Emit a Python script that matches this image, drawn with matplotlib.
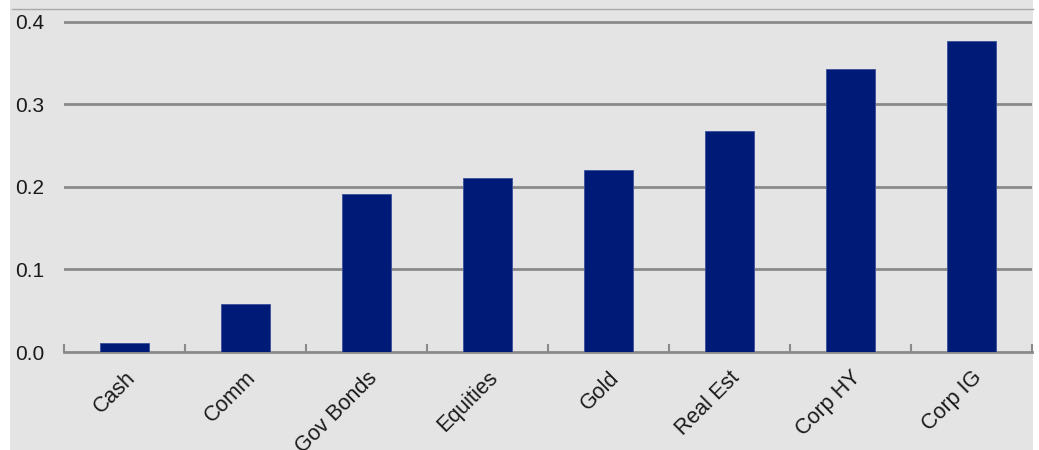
import numpy as np
import matplotlib
matplotlib.use("Agg")
import matplotlib.pyplot as plt
from matplotlib.patches import Rectangle

plt.rcParams["font.family"] = ["Liberation Sans", "DejaVu Sans"]

categories = ["Cash", "Comm", "Gov Bonds", "Equities", "Gold", "Real Est", "Corp HY", "Corp IG"]
values = [0.011, 0.058, 0.192, 0.211, 0.220, 0.268, 0.343, 0.377]
y_ticks = [0.0, 0.1, 0.2, 0.3, 0.4]

panel_color = "#e4e4e4"
bar_color = "#001a78"
grid_color = "#8a8a8a"
text_color = "#1a1a1a"

fig = plt.figure(figsize=(10.39, 4.5), dpi=100, facecolor="white")
# grey panel behind the chart, with a thin rule across the top
fig.patches.append(Rectangle((10 / 1039, 0), 1023 / 1039, 1, transform=fig.transFigure,
                             facecolor=panel_color, edgecolor="none", zorder=-10))
fig.add_artist(plt.Line2D([12 / 1039, 1033 / 1039], [1 - 9 / 450] * 2, transform=fig.transFigure,
                          color="#a8a8a8", linewidth=1, zorder=-5))

ax = fig.add_axes([64 / 1039, 1 - 352 / 450, 968 / 1039, 331 / 450])
ax.set_facecolor(panel_color)

x = np.arange(len(categories))
ax.bar(x, values, width=0.41, color=bar_color, edgecolor="#3a4f9a", linewidth=0.6, zorder=3)

ax.set_xlim(-0.5, len(categories) - 0.5)
ax.set_ylim(0, 0.4012)
ax.set_yticks(y_ticks)
ax.set_yticklabels([f"{v:.1f}" for v in y_ticks], fontsize=15, color=text_color, ha="left")
ax.tick_params(axis="y", length=0, pad=35)
for v in y_ticks[1:]:
    ax.axhline(v, color=grid_color, linewidth=2, zorder=1)

# category boundaries get small upward ticks
ax.set_xticks(np.arange(len(categories) + 1) - 0.5, minor=True)
ax.tick_params(axis="x", which="minor", direction="in", length=6, width=1.5, color=grid_color)
ax.set_xticks(x)
ax.set_xticklabels(categories, rotation=45, ha="right", rotation_mode="anchor",
                   fontsize=15.5, color=text_color)
ax.tick_params(axis="x", which="major", length=0, pad=11)

for side in ["top", "right", "left"]:
    ax.spines[side].set_visible(False)
ax.spines["bottom"].set_color(grid_color)
ax.spines["bottom"].set_linewidth(2)

plt.savefig("out.png", dpi=100)
plt.close()
